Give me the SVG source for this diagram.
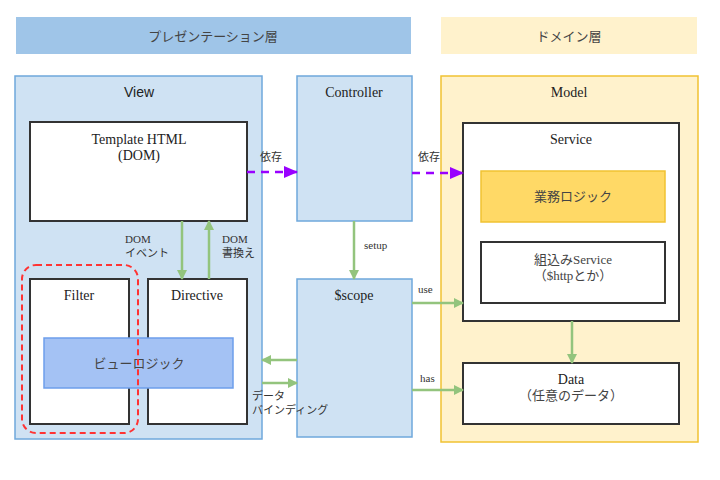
<svg xmlns="http://www.w3.org/2000/svg" width="720" height="480" viewBox="0 0 720 480">
<style>
.s{font-family:"Liberation Serif","Noto Sans CJK JP",serif;font-size:14px;fill:#222;text-anchor:middle}
.j{font-family:"Liberation Serif","Noto Sans CJK JP",sans-serif;font-size:13px;fill:#444;text-anchor:middle}
.l{font-family:"Liberation Serif","Noto Sans CJK JP",serif;font-size:11px;fill:#333}
.box{fill:#fff;stroke:#333;stroke-width:2}
.g{stroke:#93c47d;stroke-width:2.5;fill:none}
.p{stroke:#9900ff;stroke-width:2.5;fill:none;stroke-dasharray:8 6}
</style>
<defs>
<marker id="ag" markerWidth="10" markerHeight="10" refX="9" refY="5" orient="auto" markerUnits="userSpaceOnUse"><path d="M0,0 L10,5 L0,10 Z" fill="#93c47d"/></marker>
<marker id="ap" markerWidth="14" markerHeight="12" refX="13" refY="6" orient="auto" markerUnits="userSpaceOnUse"><path d="M0,0 L14,6 L0,12 Z" fill="#9900ff"/></marker>
</defs>
<rect width="720" height="480" fill="#fff"/>
<g id="header-presentation"><rect x="16" y="17" width="395" height="37" fill="#9fc5e8"/><text class="j" x="213" y="41" font-size="13.5">プレゼンテーション層</text></g>
<g id="header-domain"><rect x="441" y="17" width="256" height="37" fill="#fff2cc"/><text class="j" x="569" y="41" font-size="13.5">ドメイン層</text></g>
<g id="view"><rect x="15" y="76" width="247" height="363" fill="#cfe2f3" stroke="#6fa8dc" stroke-width="1.5"/><text x="139" y="97" font-family="Liberation Sans,Arial,sans-serif" font-size="14" fill="#222" text-anchor="middle">View</text></g>
<g id="template"><rect class="box" x="30" y="122" width="217" height="99"/><text class="s" x="139" y="144">Template HTML</text><text class="s" x="139" y="160">(DOM)</text></g>
<g id="filter"><rect class="box" x="30" y="279" width="99" height="145"/><text class="s" x="79" y="300">Filter</text></g>
<g id="directive"><rect class="box" x="148" y="279" width="99" height="145"/><text class="s" x="197" y="300">Directive</text></g>
<g id="viewlogic"><rect x="44" y="338" width="189" height="50" fill="#a4c2f4" stroke="#6d9eeb" stroke-width="1.5"/><text class="j" x="139" y="368">ビューロジック</text></g>
<g id="viewlogic-group"><rect x="22" y="265" width="116" height="168" rx="14" fill="none" stroke="#ff3333" stroke-width="2" stroke-dasharray="6 4"/></g>
<g id="controller"><rect x="297" y="76" width="115" height="145" fill="#cfe2f3" stroke="#6fa8dc" stroke-width="1.5"/><text class="s" x="354" y="97">Controller</text></g>
<g id="scope"><rect x="297" y="279" width="115" height="158" fill="#cfe2f3" stroke="#6fa8dc" stroke-width="1.5"/><text class="s" x="354" y="300">$scope</text></g>
<g id="model"><rect x="441" y="76" width="257" height="366" fill="#fff2cc" stroke="#f1c232" stroke-width="1.5"/><text class="s" x="569" y="97">Model</text></g>
<g id="service"><rect class="box" x="463" y="123" width="216" height="198"/><text class="s" x="571" y="144">Service</text></g>
<g id="business"><rect x="481" y="171" width="184" height="51" fill="#ffd966" stroke="#f1c232" stroke-width="1.5"/><text class="j" x="573" y="201" font-size="14">業務ロジック</text></g>
<g id="builtin"><rect class="box" x="481" y="242" width="184" height="61"/><text class="j" x="573" y="264" font-size="14">組込みService</text><text class="j" x="573" y="280" font-size="14">（$httpとか）</text></g>
<g id="data"><rect class="box" x="463" y="363" width="216" height="61"/><text class="s" x="571" y="384">Data</text><text class="j" x="571" y="400" font-size="14">（任意のデータ）</text></g>
<g id="connectors">
<line class="p" x1="247" y1="172" x2="297" y2="172" marker-end="url(#ap)"/>
<text class="l" x="260" y="161">依存</text>
<line class="p" x1="412" y1="173" x2="463" y2="173" marker-end="url(#ap)"/>
<text class="l" x="418" y="161">依存</text>
<line class="g" x1="182" y1="221" x2="182" y2="279" marker-end="url(#ag)"/>
<line class="g" x1="209" y1="279" x2="209" y2="221" marker-end="url(#ag)"/>
<text class="l" x="125" y="243">DOM</text><text class="l" x="125" y="257">イベント</text>
<text class="l" x="222" y="243">DOM</text><text class="l" x="222" y="257">書換え</text>
<line class="g" x1="354" y1="221" x2="354" y2="279" marker-end="url(#ag)"/>
<text class="l" x="364" y="249">setup</text>
<line class="g" x1="412" y1="303" x2="463" y2="303" marker-end="url(#ag)"/>
<text class="l" x="418" y="293">use</text>
<line class="g" x1="412" y1="390" x2="463" y2="390" marker-end="url(#ag)"/>
<text class="l" x="420" y="382">has</text>
<line class="g" x1="297" y1="360" x2="262" y2="360" marker-end="url(#ag)"/>
<line class="g" x1="262" y1="383" x2="297" y2="383" marker-end="url(#ag)"/>
<text class="l" x="252" y="400">データ</text><text class="l" x="252" y="414">バインディング</text>
<line class="g" x1="572" y1="321" x2="572" y2="363" marker-end="url(#ag)"/>
</g>
</svg>
